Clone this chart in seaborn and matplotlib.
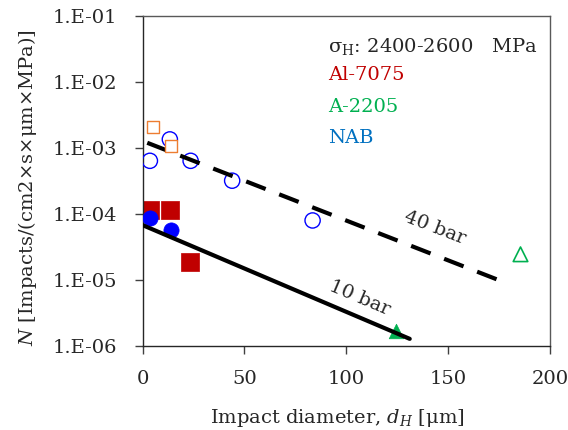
import numpy as np
import pandas as pd
import matplotlib
matplotlib.use('Agg')
import matplotlib.pyplot as plt
import seaborn as sns

sns.set_style("white")
plt.rcParams['font.family'] = ['DejaVu Serif']
plt.rcParams['mathtext.fontset'] = 'dejavuserif'

# data
al_40_d = [4.9, 14.2]
al_40_n = [2.1e-3, 1.07e-3]
al_10_d = [3.6, 13.7, 23.2]
al_10_n = [1.15e-4, 1.15e-4, 1.85e-5]
nab_40_d = [3.6, 13.4, 23.6, 44.0, 83.5]
nab_40_n = [6.4e-4, 1.35e-3, 6.4e-4, 3.2e-4, 8.0e-5]
nab_10_d = [3.6, 13.9]
nab_10_n = [8.6e-5, 5.8e-5]
a2205_40_d = [185.6]
a2205_40_n = [2.46e-5]
a2205_10_d = [124.7]
a2205_10_n = [1.7e-6]
# fit lines
fit_10_d = [0.0, 131.2]
fit_10_n = [6.8e-5, 1.29e-6]
fit_40_d = [2.3, 178.7]
fit_40_n = [1.2e-3, 9.0e-6]

fs = 14
fig = plt.figure(figsize=(5.68, 4.30), dpi=100)
ax = fig.add_axes([0.251, 0.195, 0.717, 0.768])

sns.scatterplot(x=al_10_d, y=al_10_n, ax=ax, marker='s', s=150, color='#C00000',
                edgecolor='#C00000', linewidth=0.5, zorder=2)
sns.scatterplot(x=nab_10_d, y=nab_10_n, ax=ax, marker='o', s=120, color='#0000FF',
                edgecolor='#0000FF', linewidth=0.5, zorder=3)
sns.scatterplot(x=nab_40_d, y=nab_40_n, ax=ax, marker='o', s=120, facecolor='none',
                edgecolor='#0000FF', linewidth=1.0, zorder=3)
sns.scatterplot(x=a2205_10_d, y=a2205_10_n, ax=ax, marker='^', s=110, color='#00B050',
                edgecolor='#00B050', linewidth=0.5, zorder=3)
sns.scatterplot(x=a2205_40_d, y=a2205_40_n, ax=ax, marker='^', s=110, facecolor='none',
                edgecolor='#00B050', linewidth=1.2, zorder=3)

sns.lineplot(x=fit_10_d, y=fit_10_n, ax=ax, color='black', linewidth=3.0, zorder=4)
sns.lineplot(x=fit_40_d, y=fit_40_n, ax=ax, color='black', linewidth=3.0, zorder=4,
             dashes=False, linestyle=(0, (5, 3.5)))

sns.scatterplot(x=al_40_d, y=al_40_n, ax=ax, marker='s', s=75, facecolor='white',
                edgecolor='#ED7D31', linewidth=1.0, zorder=5)

ax.set_yscale('log')
ax.set_xlim(0, 200)
ax.set_ylim(1e-6, 1e-1)
ax.set_xticks([0, 50, 100, 150, 200])
ax.set_yticks([1e-6, 1e-5, 1e-4, 1e-3, 1e-2, 1e-1])
ax.set_yticklabels(['1.E-06', '1.E-05', '1.E-04', '1.E-03', '1.E-02', '1.E-01'])
ax.yaxis.set_minor_locator(matplotlib.ticker.NullLocator())
ax.tick_params(axis='both', which='major', direction='out', length=6, width=1.0,
               color='#404040', labelsize=fs, left=True, bottom=True,
               labelcolor='#262626')
ax.tick_params(axis='y', pad=12)
ax.tick_params(axis='x', pad=11)
for sp in ax.spines.values():
    sp.set_color('#595959')
    sp.set_linewidth(1.0)
ax.spines['left'].set_color('#262626')
ax.spines['bottom'].set_color('#262626')

ax.set_xlabel('Impact diameter, $d_H$ [μm]', fontsize=fs, color='#262626')
ax.set_ylabel('$N$ [Impacts/(cm2×s×μm×MPa)]', fontsize=fs, color='#262626')
ax.xaxis.set_label_coords(0.478, -0.183)
ax.yaxis.set_label_coords(-0.255, 0.479)

ax.text(0.456, 0.906, 'σ$_\\mathregular{H}$: 2400-2600   MPa', transform=ax.transAxes,
        fontsize=fs, color='#262626', va='center', ha='left')
ax.text(0.456, 0.821, 'Al-7075', transform=ax.transAxes, fontsize=fs,
        color='#C00000', va='center', ha='left')
ax.text(0.456, 0.724, 'A-2205', transform=ax.transAxes, fontsize=fs,
        color='#00B050', va='center', ha='left')
ax.text(0.456, 0.630, 'NAB', transform=ax.transAxes, fontsize=fs,
        color='#0070C0', va='center', ha='left')

ax.text(143.5, 6.1e-5, '40 bar', fontsize=fs, rotation=-21, ha='center', va='center',
        color='#262626')
ax.text(106.7, 5.3e-6, '10 bar', fontsize=fs, rotation=-23, ha='center', va='center',
        color='#262626')

fig.savefig('out.png', dpi=100)
